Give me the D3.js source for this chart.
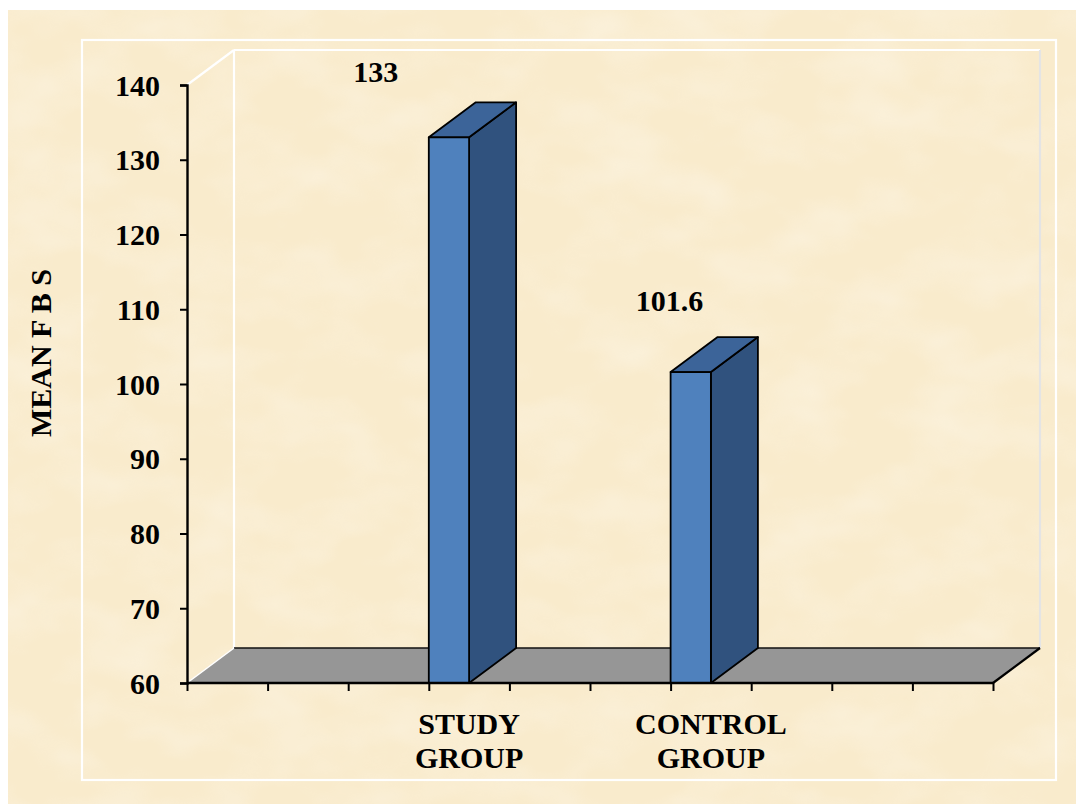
<!DOCTYPE html>
<html>
<head>
<meta charset="utf-8">
<script src="https://cdn.jsdelivr.net/npm/d3@7/dist/d3.min.js"></script>
<style>
  html, body { margin: 0; padding: 0; background: #ffffff; }
  svg { display: block; }
  text { font-family: "Liberation Serif", "Times New Roman", serif; font-weight: bold; fill: #000; }
</style>
</head>
<body>
<svg id="chart" width="1076" height="804"></svg>
<script>
// Category slots along the floor (ten slots, two of them carry bars)
const slots = ["", "", "", "STUDY GROUP", "", "", "CONTROL GROUP", "", "", ""];
const categories = ["STUDY GROUP", "CONTROL GROUP"];
const meanFBS = [133, 101.6];
const yTicks = [60, 70, 80, 90, 100, 110, 120, 130, 140];
const yTitle = "MEAN F B S";

const svg = d3.select("#chart");
const W = 1076, H = 804;

// parchment background with a faint mottled texture
const defs = svg.append("defs");
const f = defs.append("filter").attr("id", "mottle").attr("x", 0).attr("y", 0).attr("width", "100%").attr("height", "100%");
f.append("feTurbulence").attr("type", "fractalNoise").attr("baseFrequency", "0.012 0.02").attr("numOctaves", 3).attr("seed", 7).attr("result", "n");
f.append("feColorMatrix").attr("in", "n").attr("type", "matrix")
  .attr("values", "0 0 0 0 1  0 0 0 0 1  0 0 0 0 1  0.9 0 0 0 -0.35").attr("result", "w");
f.append("feComposite").attr("in", "w").attr("in2", "SourceGraphic").attr("operator", "in");

svg.append("rect").attr("x", 8).attr("y", 10).attr("width", W - 8).attr("height", H - 10).attr("fill", "#f9ebcc");
svg.append("rect").attr("x", 8).attr("y", 10).attr("width", W - 8).attr("height", H - 10).attr("fill", "#f9ebcc").attr("filter", "url(#mottle)").attr("opacity", 0.6);

// outer chart frame
svg.append("rect").attr("x", 82).attr("y", 40).attr("width", 974).attr("height", 740)
  .attr("fill", "none").attr("stroke", "#ffffff").attr("stroke-width", 2.2);

// scales
const x0 = 187, x1 = 993;
const y = d3.scaleLinear().domain([60, 140]).range([683, 85]);
const band = d3.scaleBand().domain(d3.range(slots.length)).range([x0, x1]).paddingInner(0).paddingOuter(0);
const depthX = 47, depthY = -35;

const yBase = y(60), yTop = y(140);

// back wall edges
const wall = svg.append("g").attr("fill", "none").attr("stroke", "#ffffff").attr("stroke-width", 2.2);
wall.append("line").attr("x1", x0).attr("y1", yTop).attr("x2", x0 + depthX).attr("y2", yTop + depthY);
wall.append("line").attr("x1", x0 + depthX).attr("y1", yTop + depthY).attr("x2", x1 + depthX).attr("y2", yTop + depthY);
wall.append("line").attr("x1", x0 + depthX).attr("y1", yTop + depthY).attr("x2", x0 + depthX).attr("y2", yBase + depthY);
wall.append("line").attr("x1", x1 + depthX).attr("y1", yTop + depthY).attr("x2", x1 + depthX).attr("y2", yBase + depthY)
  .attr("stroke", "#e4e4e4");

// floor
const floorPts = [[x0, yBase], [x1, yBase], [x1 + depthX, yBase + depthY], [x0 + depthX, yBase + depthY]];
svg.append("polygon").attr("points", floorPts.map(p => p.join(",")).join(" "))
  .attr("fill", "#969696").attr("stroke", "none");
svg.append("line").attr("x1", x0 + depthX).attr("y1", yBase + depthY).attr("x2", x1 + depthX).attr("y2", yBase + depthY)
  .attr("stroke", "#111").attr("stroke-width", 1.5);
svg.append("line").attr("x1", x1).attr("y1", yBase).attr("x2", x1 + depthX).attr("y2", yBase + depthY)
  .attr("stroke", "#000").attr("stroke-width", 2.2);
svg.append("line").attr("x1", x0).attr("y1", yBase).attr("x2", x0 + depthX).attr("y2", yBase + depthY)
  .attr("stroke", "#ffffff").attr("stroke-width", 1.5);

// bars: front, side and top faces
const bars = svg.append("g").attr("stroke", "#000").attr("stroke-width", 1.8).attr("stroke-linejoin", "round");
categories.forEach((c, i) => {
  const slot = slots.indexOf(c);
  const bx = band(slot), bw = band.bandwidth() / 2;
  const ty = y(meanFBS[i]);
  const g = bars.append("g");
  g.append("polygon").attr("fill", "#30527e")
    .attr("points", [[bx + bw, yBase], [bx + bw + depthX, yBase + depthY], [bx + bw + depthX, ty + depthY], [bx + bw, ty]].map(p => p.join(",")).join(" "));
  g.append("polygon").attr("fill", "#3c6499")
    .attr("points", [[bx, ty], [bx + bw, ty], [bx + bw + depthX, ty + depthY], [bx + depthX, ty + depthY]].map(p => p.join(",")).join(" "));
  g.append("rect").attr("fill", "#4f81bd").attr("x", bx).attr("y", ty).attr("width", bw).attr("height", yBase - ty);
});

// value labels above each bar
const labelDx = [-53, -1];
const labelDy = [-55, -61];
categories.forEach((c, i) => {
  const slot = slots.indexOf(c);
  svg.append("text").attr("x", band(slot) + labelDx[i]).attr("y", y(meanFBS[i]) + labelDy[i])
    .attr("text-anchor", "middle").attr("font-size", 30).text(meanFBS[i]);
});

// y axis
const yAxis = svg.append("g").attr("transform", `translate(${x0},0)`)
  .call(d3.axisLeft(y).tickValues(yTicks).tickSize(7).tickPadding(20).tickFormat(d3.format("d")));
yAxis.select(".domain").attr("stroke", "#000").attr("stroke-width", 2.4);
yAxis.selectAll(".tick line").attr("stroke", "#000").attr("stroke-width", 2);
yAxis.selectAll(".tick text").attr("font-size", 30).attr("font-family", "Liberation Serif").attr("font-weight", "bold").attr("fill", "#000").attr("dy", "0.34em");

// x axis ticks at slot boundaries
const xb = d3.scaleLinear().domain([0, slots.length]).range([x0, x1]);
const xAxis = svg.append("g").attr("transform", `translate(0,${yBase})`)
  .call(d3.axisBottom(xb).ticks(slots.length).tickSize(8).tickFormat(""));
xAxis.select(".domain").attr("stroke", "#000").attr("stroke-width", 2.6).attr("d", `M${x0},0H${x1}`);
xAxis.selectAll(".tick line").attr("stroke", "#000").attr("stroke-width", 2);

// category labels, two lines each
categories.forEach(c => {
  const slot = slots.indexOf(c);
  const words = c.split(" ");
  const t = svg.append("text").attr("text-anchor", "middle").attr("font-size", 30)
    .attr("x", band(slot) + band.bandwidth() / 2).attr("y", 734);
  words.forEach((w, k) => t.append("tspan").attr("x", band(slot) + band.bandwidth() / 2).attr("dy", k === 0 ? 0 : 34).text(w));
});

// y axis title
svg.append("text").attr("transform", "translate(51,353) rotate(-90)")
  .attr("text-anchor", "middle").attr("font-size", 30).text(yTitle);
</script>
</body>
</html>
